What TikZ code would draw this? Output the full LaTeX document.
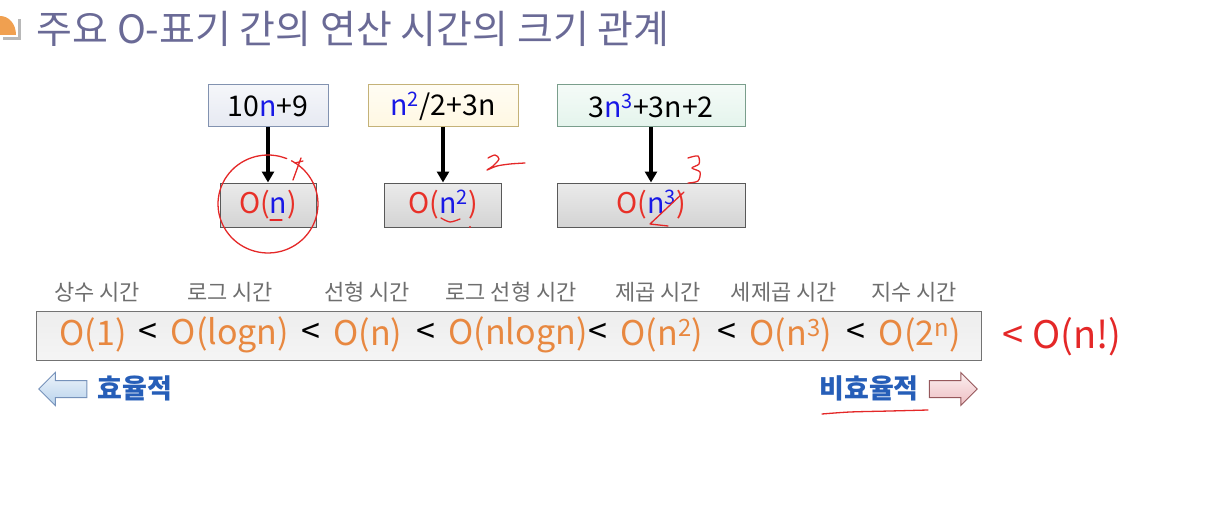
\documentclass[tikz,border=0pt]{standalone}
\usepackage{fontspec}
\setmainfont{Noto Sans CJK KR}
\usepackage{tikz}
\usetikzlibrary{arrows.meta,shapes.arrows,positioning,calc}
\definecolor{titlecolor}{RGB}{106,106,150}
\definecolor{iconcolor}{RGB}{240,160,80}
\definecolor{termcolor}{RGB}{232,136,64}
\definecolor{bigored}{RGB}{232,48,40}
\definecolor{nblue}{RGB}{24,24,230}
\definecolor{labelgray}{RGB}{110,110,110}
\definecolor{effblue}{RGB}{38,94,184}
\definecolor{penred}{RGB}{228,40,40}
\definecolor{fbluefill}{RGB}{230,233,242}
\definecolor{fblueline}{RGB}{130,146,176}
\definecolor{fyellowfill}{RGB}{255,248,226}
\definecolor{fyellowline}{RGB}{196,178,120}
\definecolor{fgreenfill}{RGB}{228,244,236}
\definecolor{fgreenline}{RGB}{122,158,140}
\definecolor{leftfill}{RGB}{184,210,236}
\definecolor{leftline}{RGB}{118,146,186}
\definecolor{rightfill}{RGB}{238,190,194}
\definecolor{rightline}{RGB}{150,88,92}

\begin{document}
\begin{tikzpicture}[
    x=1pt, y=-1pt,
    formula/.style={rectangle, draw=#1line, line width=1pt, top color=#1fill!40!white, bottom color=#1fill, minimum height=42pt, font=\fontsize{28.5}{30}\selectfont, inner sep=0pt},
    bigo/.style={rectangle, draw=black!65, line width=1pt, top color=black!8, bottom color=black!17, minimum height=44pt, font=\fontsize{28.5}{30}\selectfont, text=bigored, inner sep=0pt},
    edge/.style={-{Triangle[length=11pt,width=12pt]}, line width=3.2pt, black},
    kind/.style={font=\fontsize{22}{24}\selectfont, text=labelgray},
    term/.style={font=\fontsize{34}{36}\selectfont, text=termcolor},
    less/.style={font=\fontsize{34}{36}\selectfont, text=black},
    blockarrow/.style={single arrow, single arrow head extend=8pt, minimum height=48pt, inner xsep=0pt, inner ysep=8pt, line width=1pt},
    pen/.style={penred, line width=1.3pt, line cap=round, line join=round}
]
    \useasboundingbox (0,0) rectangle (1226,524);

    % title
    \fill[black!28] (3,19) rectangle (21,40);
    \fill[white] (0,16) rectangle (18,37);
    \fill[iconcolor] (0,35) -- (0,16) .. controls (9,16) and (16,24) .. (16,35) -- cycle;
    \node[anchor=west, text=titlecolor, font=\fontsize{39}{42}\selectfont] (title) at (33,29) {주요 O-표기 간의 연산 시간의 크기 관계};

    % polynomials and their O-notation
    \node[formula=fblue, minimum width=120pt] (f1) at (268,106) {10{\color{nblue}n}+9};
    \node[formula=fyellow, minimum width=150pt] (f2) at (443,106) {{\color{nblue}n\textsuperscript{2}}/2+3n};
    \node[formula=fgreen, minimum width=188pt] (f3) at (651,106) {3{\color{nblue}n\textsuperscript{3}}+3n+2};

    \node[bigo, minimum width=96pt] (o1) at (268,205) {O({\color{nblue}n})};
    \node[bigo, minimum width=117pt] (o2) at (443,205) {O({\color{nblue}n\textsuperscript{2}})};
    \node[bigo, minimum width=188pt] (o3) at (651,205) {O({\color{nblue}n\textsuperscript{3}})};

    \draw[edge] (f1) -- (o1);
    \draw[edge] (f2) -- (o2);
    \draw[edge] (f3) -- (o3);

    % ordering of growth rates
    \node[rectangle, draw=black!55, line width=1pt, top color=black!7, bottom color=black!4, minimum width=945pt, minimum height=49pt] (order) at (508.5,335.5) {};
    \foreach \x/\t in {97/상수 시간, 230/로그 시간, 367/선형 시간, 511/로그 선형 시간, 658/제곱 시간, 784/세제곱 시간, 914/지수 시간}
        \node[kind] (k\x) at (\x,292) {\t};
    \foreach \x/\t in {93/O(1), 230/O(logn), 368/O(n), 518/O(nlogn), 662/{O(n\textsuperscript{2})}, 791/{O(n\textsuperscript{3})}, 920/{O(2\textsuperscript{n})}}
        \node[term] (t\x) at (\x,335) {\t};
    \foreach \x in {148,311,426,598,727,856}
        \node[less] (l\x) at (\x,333) {<};

    % efficient / inefficient
    \node[blockarrow, shape border rotate=180, draw=leftline, top color=leftfill!25!white, bottom color=leftfill] (effarrow) at (67,389) {};
    \node[anchor=west, text=effblue, font=\bfseries\fontsize{27}{29}\selectfont] (eff) at (94,388) {효율적};
    \node[text=effblue, font=\bfseries\fontsize{27}{29}\selectfont] (ineff) at (869,388) {비효율적};
    \node[blockarrow, draw=rightline, top color=rightfill!25!white, bottom color=rightfill] (ineffarrow) at (949,389) {};

    % handwritten notes
    \draw[pen] plot[smooth, domain=-62:292, samples=40, variable=\a] ({268+50*cos(\a)}, {204+49*sin(\a)});
    \draw[pen] (293,180) -- (301,158) (295,163) -- (303,161);
    \draw[pen] (270,220) -- (282,220);
    \draw[pen] plot[smooth] coordinates {(488,158) (495,155) (499,159) (493,166) (487,170) (497,166) (510,164) (525,163)};
    \draw[pen] plot[smooth] coordinates {(441,218) (450,222) (460,219)};
    \fill[penred] (470,227) circle[radius=1.2];
    \draw[pen] plot[smooth] coordinates {(688,158) (698,156) (699,164) (692,168) (700,172) (698,181) (688,183)};
    \draw[pen] (650,224) -- (684,192) (650,224) -- (668,226);
    \node[text=penred, font=\fontsize{38}{40}\selectfont] (nfact) at (1062,337) {< O(n!)};
    \draw[pen] plot[smooth] coordinates {(822,414) (850,412) (890,411) (928,410)};
\end{tikzpicture}
\end{document}
